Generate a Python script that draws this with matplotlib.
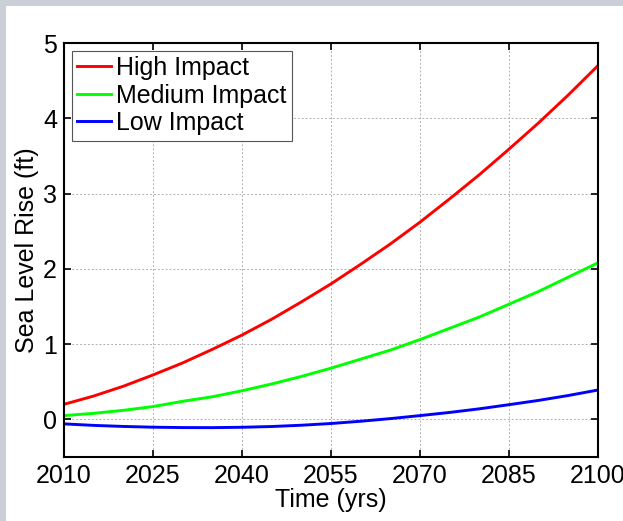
import matplotlib
matplotlib.use("Agg")
import matplotlib.pyplot as plt
from matplotlib.patches import Rectangle

# sea level rise projections (ft), read every 5 years
years = [2010, 2015, 2020, 2025, 2030, 2035, 2040, 2045, 2050, 2055,
         2060, 2065, 2070, 2075, 2080, 2085, 2090, 2095, 2100]
high_impact = [0.20, 0.31, 0.44, 0.59, 0.75, 0.93, 1.12, 1.33, 1.56, 1.80,
               2.06, 2.33, 2.62, 2.93, 3.25, 3.59, 3.94, 4.31, 4.70]
medium_impact = [0.05, 0.08, 0.12, 0.17, 0.24, 0.30, 0.38, 0.47, 0.57, 0.68,
                 0.80, 0.92, 1.06, 1.21, 1.36, 1.53, 1.70, 1.89, 2.08]
low_impact = [-0.060, -0.080, -0.094, -0.104, -0.109, -0.110, -0.105, -0.095, -0.078, -0.055,
              -0.025, 0.010, 0.050, 0.092, 0.140, 0.195, 0.252, 0.317, 0.390]

xticks = [2010, 2025, 2040, 2055, 2070, 2085, 2100]
yticks = [0, 1, 2, 3, 4, 5]

plt.rcParams['font.family'] = ['Liberation Sans', 'DejaVu Sans']

fig = plt.figure(figsize=(6.23, 5.21), dpi=100)
fig.patch.set_facecolor('#cbd0d7')
# white panel behind the plot
fig.add_artist(Rectangle((6 / 623, 0), 1, 1 - 6 / 521, transform=fig.transFigure,
                         facecolor='white', edgecolor='none', zorder=-5))

ax = fig.add_axes([64 / 623, 64 / 521, 534 / 623, 414 / 521])
ax.set_zorder(2)
ax.plot(years, high_impact, color='#ff0000', lw=2.1, label='High Impact')
ax.plot(years, medium_impact, color='#00ff00', lw=2.1, label='Medium Impact')
ax.plot(years, low_impact, color='#0000ff', lw=2.1, label='Low Impact')

ax.set_xlim(2010, 2100)
ax.set_ylim(-0.5, 5)
ax.set_xticks(xticks)
ax.set_yticks(yticks)
ax.tick_params(direction='in', length=5, width=1.2, top=True, right=True,
               labelsize=18, pad=5)
for s in ax.spines.values():
    s.set_linewidth(1.5)
ax.grid(True, linestyle=(0, (2, 2)), color='#b0b0b0', linewidth=0.7)

ax.set_xlabel('Time (yrs)', fontsize=18, labelpad=0)
ax.set_ylabel('Sea Level Rise (ft)', fontsize=18, labelpad=3)

leg = ax.legend(loc='upper left', fontsize=18, fancybox=False, framealpha=1,
                edgecolor='#555555', handlelength=1.35, handletextpad=0.2,
                labelspacing=0.14, borderpad=0.22, borderaxespad=0.3)
leg.get_frame().set_linewidth(0.8)

fig.savefig('out.png', dpi=100, facecolor=fig.get_facecolor())
